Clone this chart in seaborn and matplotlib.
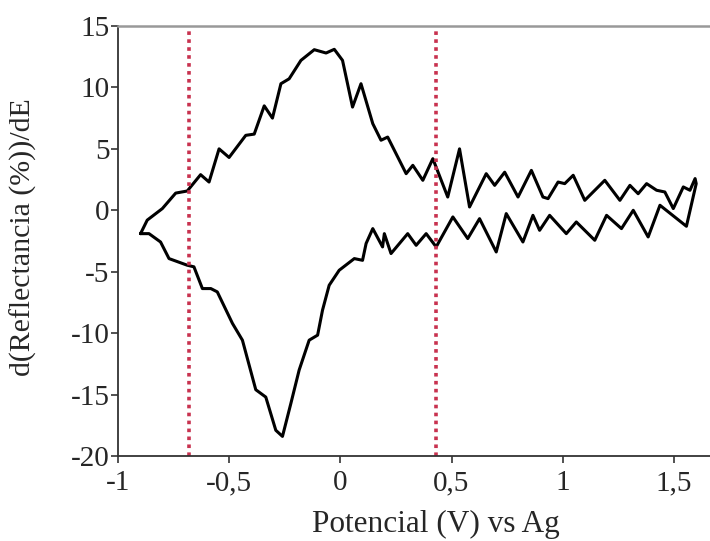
import pandas as pd
import seaborn as sns
import matplotlib.pyplot as plt

# anodic sweep (left to right)
upper_x = [-0.898, -0.868, -0.80, -0.74, -0.688, -0.628, -0.59, -0.545, -0.5, -0.425,
           -0.387, -0.342, -0.305, -0.267, -0.23, -0.177, -0.117, -0.064, -0.027, 0.01,
           0.055, 0.093, 0.146, 0.183, 0.213, 0.296, 0.326, 0.371, 0.416, 0.483,
           0.536, 0.581, 0.656, 0.694, 0.739, 0.799, 0.859, 0.911, 0.934, 0.979,
           1.009, 1.047, 1.099, 1.189, 1.257, 1.302, 1.339, 1.377, 1.422, 1.459,
           1.497, 1.542, 1.572, 1.595, 1.60]
upper_y = [-1.9, -0.8, 0.14, 1.4, 1.57, 2.9, 2.3, 5.0, 4.3, 6.1,
           6.2, 8.5, 7.5, 10.3, 10.7, 12.2, 13.07, 12.8, 13.1, 12.2,
           8.4, 10.3, 7.05, 5.7, 5.96, 2.98, 3.66, 2.44, 4.2, 1.08,
           5.0, 0.27, 2.98, 2.03, 3.1, 1.08, 3.25, 1.08, 0.95, 2.3,
           2.17, 2.85, 0.81, 2.44, 0.81, 2.03, 1.35, 2.17, 1.63, 1.49,
           0.14, 1.9, 1.63, 2.58, 2.17]

# cathodic sweep (right to left)
lower_x = [1.556, 1.437, 1.384, 1.317, 1.264, 1.197, 1.144, 1.061, 1.016, 0.941,
           0.896, 0.866, 0.821, 0.746, 0.701, 0.626, 0.573, 0.506, 0.431, 0.386,
           0.341, 0.303, 0.228, 0.198, 0.19, 0.146, 0.116, 0.10, 0.063, -0.005,
           -0.05, -0.08, -0.102, -0.14, -0.185, -0.222, -0.26, -0.29, -0.335, -0.38,
           -0.44, -0.485, -0.553, -0.582, -0.62, -0.658, -0.688, -0.77, -0.808, -0.86,
           -0.898]
lower_y = [-1.3, 0.41, -2.17, 0.0, -1.49, -0.41, -2.44, -0.95, -1.9, -0.41,
           -1.63, -0.41, -2.58, -0.27, -3.39, -0.68, -2.3, -0.54, -2.98, -1.9,
           -2.85, -1.9, -3.52, -1.9, -2.98, -1.49, -2.7, -4.07, -3.93, -4.88,
           -6.1, -8.13, -10.16, -10.57, -13.0, -15.7, -18.4, -17.9, -15.2, -14.6,
           -10.57, -9.2, -6.64, -6.37, -6.37, -4.6, -4.47, -3.93, -2.58, -1.9,
           -1.9]

marker_lines = [-0.68, 0.43]
x_ticks = [-1, -0.5, 0, 0.5, 1, 1.5]
x_labels = ["-1", "-0,5", "0", "0,5", "1", "1,5"]
y_ticks = [15, 10, 5, 0, -5, -10, -15, -20]

df = pd.DataFrame({"E": upper_x + lower_x, "dR": upper_y + lower_y})

sns.set_style("ticks")
plt.rcParams["font.family"] = ["Liberation Serif", "DejaVu Serif"]
plt.rcParams["axes.unicode_minus"] = False

fig = plt.figure(figsize=(7.10, 5.41), dpi=100)
ax = fig.add_axes([0.166, 0.157, 0.834, 0.795])

sns.lineplot(data=df, x="E", y="dR", sort=False, estimator=None,
             color="black", linewidth=2.2, ax=ax)

for xv in marker_lines:
    ax.axvline(xv, color="#c8324f", linestyle=(0, (1, 1.2)), linewidth=2.6)

ax.set_xlim(-1, 1.662)
ax.set_ylim(-20, 15)
ax.set_xticks(x_ticks)
ax.set_xticklabels(x_labels)
ax.set_yticks(y_ticks)
ax.tick_params(axis="both", labelsize=21, length=5, width=1.2, color="#333333",
               direction="out")
ax.tick_params(axis="x", pad=5)
ax.tick_params(axis="y", pad=1)

ax.spines["right"].set_visible(False)
ax.spines["top"].set_color("#999999")
ax.spines["top"].set_linewidth(1.8)
for s in ["left", "bottom"]:
    ax.spines[s].set_color("#333333")
    ax.spines[s].set_linewidth(1.3)

ax.set_xlabel("Potencial (V) vs Ag", fontsize=22.5)
ax.set_ylabel("d(Reflectancia (%))/dE", fontsize=21.5)
# the original plot area runs on past the cropped right edge
ax.xaxis.set_label_coords(0.537, -0.126)
ax.yaxis.set_label_coords(-0.137, 0.51)

plt.savefig("out.png", dpi=100)
